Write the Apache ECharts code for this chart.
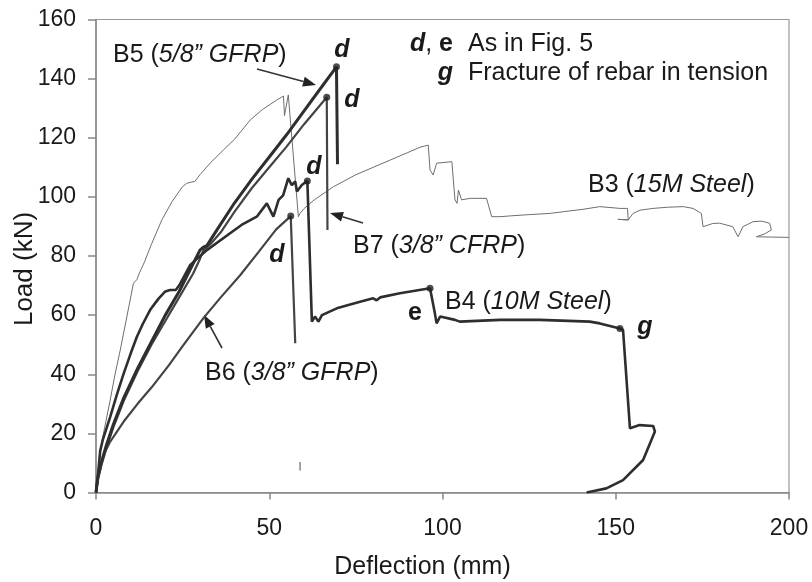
<!DOCTYPE html>
<html><head><meta charset="utf-8">
<script src="https://cdn.jsdelivr.net/npm/echarts@6/dist/echarts.min.js"></script>
<style>html,body{margin:0;padding:0;background:#fff}#c{width:812px;height:582px}</style>
</head><body><div id="c"></div><script>
// ---- data (deflection mm, load kN) ----
const xTicks = [0, 50, 100, 150, 200];
const yTicks = [0, 20, 40, 60, 80, 100, 120, 140, 160];

const b3 = [[0,0],[0.5,6],[1.2,14.4],[2.5,22],[4.1,31.3],[5.5,40],[7,48.2],[9,60],[10.8,70.8],[11.8,72],[12.5,74.2],[14,78],[16,84],[19,92.2],[22,98.5],[25,103.5],[26.2,104.6],[27.5,105],[28.5,105.2],[30,107.5],[33,111.5],[36.8,115.9],[40,119.5],[44.5,126],[48,129.5],[52.2,132.8],[54.1,134.1],[54.4,127.5],[54.8,127.3],[55.5,134.5],[56,134.5],[58.4,93.3],[58.9,94.4],[60,96],[63,99],[68.5,103.4],[75,107.5],[80,110],[85,112.5],[90,115],[93.5,116.8],[95.9,117.5],[96.4,109.1],[97.3,107.4],[97.5,108],[98.3,111.4],[102.7,111.9],[103.6,99],[104.2,97.8],[104.6,102.3],[105.5,99],[108,99.5],[112.7,99.5],[113.2,100],[114.2,93.3],[116.6,93.3],[120,93.6],[125,94],[131,94.4],[135,95],[140.6,95.8],[145.4,96.7],[151.2,96.1],[153.4,96.1],[153.6,92.2],[150.6,92.4],[153.6,92.2],[155,94.4],[157,95.5],[160.8,96.1],[165,96.5],[169.5,96.7],[172.3,96.1],[174.7,94.4],[175.2,89.9],[178,91],[180,91.1],[183.8,89.9],[185.3,86.5],[186.7,89.9],[189.6,91.6],[192,91.8],[194.4,91.1],[194.9,88.8],[193,87.5],[190.6,86.5],[200,86.3]];
const b3Stray = [[58.9,7.4],[58.9,10.3]];

const b4 = [[0,0],[0.5,5],[1.2,14],[2,18],[4.1,25.6],[6,33],[8,40.3],[10,47],[11.8,52.7],[13.5,57],[15.6,61.7],[18,65.5],[20,68],[21.4,68.5],[23,68.5],[24,70],[27.2,77],[32,82],[38.7,87.7],[42,90.5],[46.4,93.3],[49.3,97.8],[51.2,93.3],[52.7,99],[54,100.5],[55.5,106.3],[56.5,104],[57.5,105.2],[58,101.8],[59.4,104],[61,105.4],[61.4,105.4],[62.3,57.8],[63.2,59.5],[64.2,57.8],[65.2,60],[69.5,62.3],[76.2,64.5],[80,65.7],[81,65],[82,66],[87.7,67.4],[96.4,69.1],[97.8,60.6],[98.3,57.2],[99.3,59.5],[103.6,58.4],[105,57.8],[116.6,58.4],[128.1,58.4],[142.5,57.8],[145.4,57.2],[151.2,55.5],[152.1,55],[154.1,21.7],[156.9,22.8],[160.8,22.5],[161.3,20.6],[157.9,11],[152.1,4.2],[147.3,1.4],[141.6,0]];

const b5 = [[0,0],[0.5,5],[1.5,10],[3,16],[5,23],[8,32],[12,42],[16,51],[20,60],[24,68],[27,75],[30,82],[31,83],[32,83.5],[35,89],[40,98],[45,106],[50,113.5],[55,121],[60,129],[65,137],[69.4,144],[69.6,144],[69.7,111]];

const b7 = [[0,0],[0.5,4],[1.5,9],[3,15],[5,22],[8,31],[12,41],[16,50],[20,58],[24,66],[28,74],[30,79],[31,82],[33,84],[36,88],[40,95],[45,103],[50,110],[55,117],[60,124.5],[66.6,133.7],[66.8,88.8]];

const b6 = [[0,0],[0.5,5],[1.2,9],[2.5,13.5],[4,17],[6,20.5],[8,24],[12,30],[16,35.5],[21,43],[25,49.5],[31,59],[36,66],[41.6,73.5],[47,81.5],[52,89],[56.2,93.5],[56.5,93.5],[57.5,50.5]];

// failure-mode markers (d, e, g)
const failurePoints = [[69.4,144],[66.6,133.7],[61,105.4],[56.2,93.5],[96.4,69.1],[151.2,55.5]];

// ---- chart ----
const FONT = "'Liberation Sans', Arial, sans-serif";
const INK = '#1a1a1a';
const chart = echarts.init(document.getElementById('c'));

function arrow(x1, y1, x2, y2) {
  const a = Math.atan2(y2 - y1, x2 - x1), L = 13, W = 5;
  const bx = x2 - L * Math.cos(a), by = y2 - L * Math.sin(a);
  const px = -Math.sin(a) * W, py = Math.cos(a) * W;
  return [
    {type: 'line', shape: {x1: x1, y1: y1, x2: bx, y2: by}, style: {stroke: '#333', lineWidth: 1.6}},
    {type: 'polygon', shape: {points: [[x2, y2], [bx + px, by + py], [bx - px, by - py]]}, style: {fill: '#222'}}
  ];
}
const rich = {
  n: {fontFamily: FONT, fontSize: 25, color: INK},
  i: {fontFamily: FONT, fontSize: 25, color: INK, fontStyle: 'italic'},
  bi: {fontFamily: FONT, fontSize: 25, color: INK, fontStyle: 'italic', fontWeight: 'bold'},
  b: {fontFamily: FONT, fontSize: 25, color: INK, fontWeight: 'bold'}
};
function label(x, y, text, align) {
  return {type: 'text', x: x, y: y, z: 10,
    style: {text: text, rich: rich, align: align || 'left', verticalAlign: 'middle', font: '25px ' + FONT, fill: INK}};
}

const lineSeries = (name, data, width, color) => ({
  name: name, type: 'line', data: data, showSymbol: false, silent: true,
  lineStyle: {width: width, color: color}, clip: true, animation: false
});

chart.setOption({
  animation: false,
  grid: {left: 96, right: 23, top: 19.5, bottom: 89.5, show: true, borderColor: '#999', borderWidth: 1.2,
         containLabel: false, outerBoundsMode: 'none'},
  xAxis: {
    type: 'value', min: xTicks[0], max: xTicks[xTicks.length - 1], interval: 50,
    axisLine: {show: true, onZero: false, lineStyle: {color: '#888', width: 1.5}},
    axisTick: {show: true, length: 7, lineStyle: {color: '#888', width: 1.5}},
    splitLine: {show: false},
    axisLabel: {fontFamily: FONT, fontSize: 23, color: INK, margin: 25},
    name: 'Deflection (mm)', nameLocation: 'middle', nameGap: 62,
    nameTextStyle: {fontFamily: FONT, fontSize: 25, color: INK, padding: [0, 40, 0, 0]}
  },
  yAxis: {
    type: 'value', min: yTicks[0], max: yTicks[yTicks.length - 1], interval: 20,
    axisLine: {show: true, onZero: false, lineStyle: {color: '#888', width: 1.5}},
    axisTick: {show: true, length: 8, lineStyle: {color: '#888', width: 1.5}},
    splitLine: {show: false},
    axisLabel: {fontFamily: FONT, fontSize: 23, color: INK, margin: 20},
    name: 'Load (kN)', nameLocation: 'middle', nameGap: 58, nameMoveOverlap: false,
    nameTextStyle: {fontFamily: FONT, fontSize: 26, color: INK, padding: [0, 26, 0, 0]}
  },
  series: [
    lineSeries('B3 (15M Steel)', b3, 1, '#6e6e6e'),
    lineSeries('stray', b3Stray, 1.5, '#888'),
    lineSeries('B6 (3/8" GFRP)', b6, 2.2, '#444'),
    lineSeries('B7 (3/8" CFRP)', b7, 2.2, '#444'),
    lineSeries('B4 (10M Steel)', b4, 2.6, '#2e2e2e'),
    lineSeries('B5 (5/8" GFRP)', b5, 3, '#2e2e2e'),
    {type: 'scatter', data: failurePoints, symbolSize: 7, itemStyle: {color: '#222'}, silent: true, z: 5}
  ],
  graphic: [
    label(113, 55, '{n|B5 (}{i|5/8” GFRP}{n|)}'),
    ...arrow(257, 69, 316, 85),
    label(342, 50, '{bi|d}', 'center'),
    label(352, 100, '{bi|d}', 'center'),
    label(314, 167, '{bi|d}', 'center'),
    label(277, 255, '{bi|d}', 'center'),
    label(453, 44, '{bi|d}{n|, }{b|e}', 'right'),
    label(468, 44, '{n|As in Fig. 5}'),
    label(453, 73, '{bi|g}', 'right'),
    label(468, 73, '{n|Fracture of rebar in tension}'),
    label(588, 185, '{n|B3 (}{i|15M Steel}{n|)}'),
    label(353, 246, '{n|B7 (}{i|3/8” CFRP}{n|)}'),
    ...arrow(363, 223, 330, 213),
    label(445, 302, '{n|B4 (}{i|10M Steel}{n|)}'),
    label(415, 313, '{b|e}', 'center'),
    label(645, 327, '{bi|g}', 'center'),
    label(205, 373, '{n|B6 (}{i|3/8” GFRP}{n|)}'),
    ...arrow(222, 348, 204, 315)
  ]
});
</script></body></html>
